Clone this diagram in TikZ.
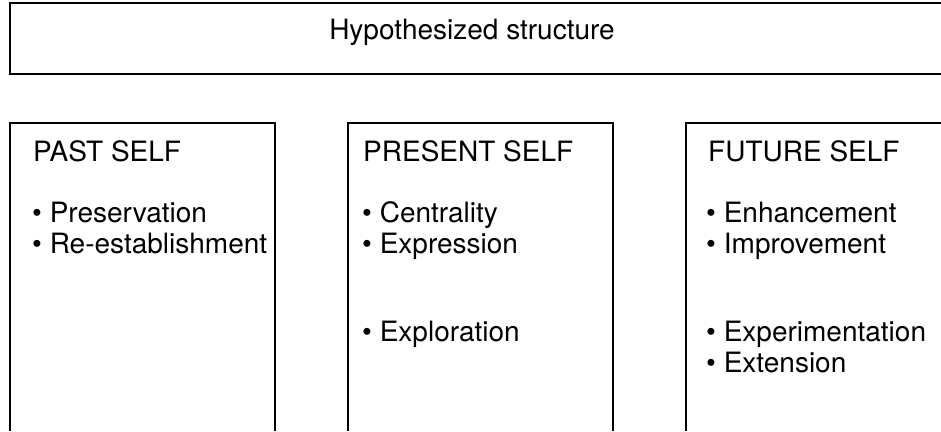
\documentclass[tikz,border=0pt]{standalone}
\usepackage{fontspec}
\setmainfont{TeX Gyre Heros}
\begin{document}
\begin{tikzpicture}[x=1pt,y=-1pt,
  frame/.style={draw=black,line width=1.6pt},
  lbl/.style={anchor=base west,inner sep=0pt,font=\fontsize{28}{32}\selectfont},
  ttl/.style={anchor=base,inner sep=0pt,font=\fontsize{28}{32}\selectfont}]
\useasboundingbox[fill=white] (0,0) rectangle (941,431);
% top box (open to the right)
\draw[frame] (941,3) -- (10,3) -- (10,74) -- (941,74);
\node[ttl] (hyp) at (472,39) {Hypothesized structure};
% lower boxes
\draw[frame] (10,431) -- (10,123) -- (275,123) -- (275,431);
\draw[frame] (348,431) -- (348,123) -- (613,123) -- (613,431);
\draw[frame] (686,431) -- (686,123) -- (941,123);
% past
\node[lbl] (past) at (33,161) {PAST SELF};
\node[lbl] (p1) at (32,222) {• Preservation};
\node[lbl] (p2) at (32,253) {• Re-establishment};
% present
\node[lbl] (pres) at (363,161) {PRESENT SELF};
\node[lbl] (c1) at (362,222) {• Centrality};
\node[lbl] (c2) at (362,253) {• Expression};
\node[lbl] (c3) at (362,341) {• Exploration};
% future
\node[lbl] (fut) at (708,161) {FUTURE SELF};
\node[lbl] (f1) at (706,222) {• Enhancement};
\node[lbl] (f2) at (706,253) {• Improvement};
\node[lbl] (f3) at (706,341) {• Experimentation};
\node[lbl] (f4) at (706,372) {• Extension};
\end{tikzpicture}
\end{document}
